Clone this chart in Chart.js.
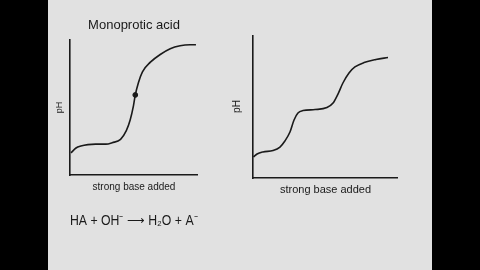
<!DOCTYPE html>
<html>
<head>
<meta charset="utf-8">
<script src="https://cdn.jsdelivr.net/npm/chart.js@4.4.1/dist/chart.umd.min.js"></script>
<style>
    html, body { margin: 0; padding: 0; background: #000; }
    #board { position: absolute; left: 48px; top: 0; width: 384px; height: 270px; background: #e1e1e1; }
    .box { position: absolute; }
    #leftBox { left: 54px; top: 0; width: 144px; height: 232px; }
    #rightBox { left: 226px; top: 35px; width: 172px; height: 161px; }
</style>
</head>
<body>
<div id="board"></div>
<div class="box" id="leftBox"><canvas id="monoChart"></canvas></div>
<div class="box" id="rightBox"><canvas id="diChart"></canvas></div>
<script>
// monoprotic acid curve (base added 0-100, pH 0-14)
var monoBase = [0.8, 4.7, 8.5, 14, 20, 28, 33, 39.5, 44, 47, 49.6, 51, 53.5, 56.6, 62.8, 70.5, 78.3, 86, 93.8, 98.4];
var monoPH = [2.3, 2.8, 3.0, 3.15, 3.2, 3.2, 3.35, 3.7, 4.6, 5.7, 7.2, 8.3, 9.6, 10.7, 11.7, 12.5, 13.1, 13.4, 13.5, 13.5];
var equivBase = [51];
var equivPH = [8.3];

// second curve, two buffer regions
var diBase = [0.3, 2.8, 6.9, 13.8, 18.6, 22, 25.5, 28.3, 31, 34.5, 42.8, 51, 55.2, 58.6, 62, 66.2, 70.3, 76.6, 84.8, 93.1];
var diPH = [2.06, 2.35, 2.55, 2.69, 3.03, 3.62, 4.5, 5.68, 6.36, 6.6, 6.7, 6.9, 7.34, 8.22, 9.3, 10.28, 10.87, 11.3, 11.6, 11.8];

var ink = '#1a1a1a';
var handFont = 'Liberation Sans';

function toPoints(xs, ys) {
    return xs.map(function (x, i) { return { x: x, y: ys[i] }; });
}

function axes(xTitle, xSize, xPad, yTitle, ySize, yPad) {
    return {
        x: {
            type: 'linear', min: 0, max: 100,
            grid: { display: false, drawTicks: false },
            ticks: { display: false },
            border: { display: true, color: ink, width: 1.6 },
            title: { display: true, text: xTitle, color: ink, padding: xPad,
                font: { family: handFont, size: xSize, lineHeight: 1 } }
        },
        y: {
            type: 'linear', min: 0, max: 14,
            grid: { display: false, drawTicks: false },
            ticks: { display: false },
            border: { display: true, color: ink, width: 1.6 },
            title: { display: true, text: yTitle, color: ink, padding: yPad,
                font: { family: handFont, size: ySize, lineHeight: 1 } }
        }
    };
}

document.addEventListener("DOMContentLoaded", function () {
    var ctx1 = document.getElementById("monoChart").getContext("2d");
    var ctx2 = document.getElementById("diChart").getContext("2d");

    var chart1 = new Chart(ctx1, {
        type: 'line',
        data: {
            datasets: [{
                label: 'Monoprotic acid',
                data: toPoints(monoBase, monoPH),
                borderColor: ink,
                borderWidth: 1.6,
                pointRadius: 0,
                cubicInterpolationMode: 'monotone',
                fill: false
            }, {
                label: 'Equivalence point',
                data: toPoints(equivBase, equivPH),
                showLine: false,
                pointRadius: 2.4,
                pointBackgroundColor: ink,
                pointBorderColor: ink
            }]
        },
        options: {
            responsive: true,
            maintainAspectRatio: false,
            animation: false,
            layout: { padding: 0, autoPadding: false },
            scales: axes('strong base added', 10, { top: 7, bottom: 0 }, 'pH', 9, { top: 1.5, bottom: 5.5 }),
            plugins: {
                legend: { display: false },
                tooltip: { enabled: false },
                title: {
                    display: true,
                    text: 'Monoprotic acid',
                    color: ink,
                    fullSize: false,
                    padding: { top: 18.5, bottom: 8.5 },
                    font: { family: handFont, size: 13, weight: 'normal', lineHeight: 1 }
                },
                subtitle: {
                    display: true,
                    position: 'bottom',
                    align: 'start',
                    fullSize: false,
                    text: 'HA + OH\u207B \u27F6 H\u2082O + A\u207B',
                    color: ink,
                    padding: { top: 22.5, bottom: 3.5 },
                    font: { family: handFont, size: 14, lineHeight: 1 }
                }
            }
        }
    });

    var chart2 = new Chart(ctx2, {
        type: 'line',
        data: {
            datasets: [{
                label: 'Curve',
                data: toPoints(diBase, diPH),
                borderColor: ink,
                borderWidth: 1.6,
                pointRadius: 0,
                cubicInterpolationMode: 'monotone',
                fill: false
            }]
        },
        options: {
            responsive: true,
            maintainAspectRatio: false,
            animation: false,
            layout: { padding: 0, autoPadding: false },
            scales: axes('strong base added', 11, { top: 6.5, bottom: 0.5 }, 'pH', 10, { top: 6, bottom: 11 }),
            plugins: {
                legend: { display: false },
                tooltip: { enabled: false }
            }
        }
    });
});
</script>
</body>
</html>
